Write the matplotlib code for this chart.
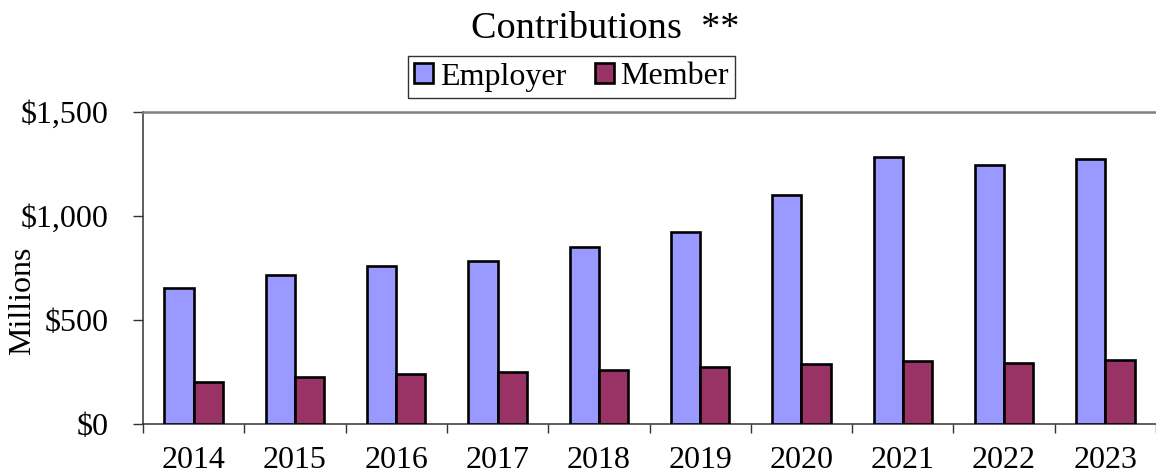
import numpy as np
import matplotlib.pyplot as plt
from matplotlib.ticker import FixedLocator, FuncFormatter

# ===============================
# Data (millions)
# ===============================
years = ["2014", "2015", "2016", "2017", "2018",
         "2019", "2020", "2021", "2022", "2023"]
employer = [652, 718, 760, 782, 849, 923, 1101, 1282, 1244, 1274]
member = [203, 224, 239, 251, 260, 272, 288, 301, 294, 308]

plt.rcParams["font.family"] = ["Liberation Serif", "DejaVu Serif"]

W, H = 1156, 475
fig = plt.figure(figsize=(W / 100, H / 100), dpi=100)

# axes box in pixels: left 143, right 1156, top 112, bottom 424
ax = fig.add_axes([143 / W, 1 - 424 / H, (1156 - 143) / W, (424 - 112) / H])

x = np.arange(len(years))
bw = 0.288

ax.bar(x - bw / 2, employer, bw, color="#9999FF", edgecolor="black",
       linewidth=1.9, label="Employer", zorder=3)
ax.bar(x + bw / 2, member, bw, color="#993366", edgecolor="black",
       linewidth=1.9, label="Member", zorder=3)

ax.set_xlim(-0.5, 9.44)
ax.set_ylim(0, 1500)

# Y axis
ax.yaxis.set_major_locator(FixedLocator([0, 500, 1000, 1500]))
ax.yaxis.set_major_formatter(FuncFormatter(lambda v, p: f"${v:,.0f}"))
ax.tick_params(axis="y", which="major", direction="out", length=7,
               width=1.0, color="#333333", labelsize=23, pad=18)

# X axis: labels at centers, ticks at category boundaries
ax.set_xticks(x)
ax.set_xticklabels(years)
ax.set_xticks(np.arange(-0.5, len(years), 1.0), minor=True)
ax.tick_params(axis="x", which="major", length=0, labelsize=23, pad=16)
ax.tick_params(axis="x", which="minor", direction="out", length=6.5,
               width=1.0, color="#333333")

# Spines
ax.spines["right"].set_visible(False)
ax.spines["top"].set_color("#808080")
ax.spines["top"].set_linewidth(1.8)
for s in ["left", "bottom"]:
    ax.spines[s].set_color("#333333")
    ax.spines[s].set_linewidth(1.1)

# Labels
fig.text(23 / W, 1 - 301 / H, "Millions", rotation=90, ha="center",
         va="center", fontsize=23)
fig.text(471 / W, 1 - 38 / H, "Contributions  **", ha="left",
         va="baseline", fontsize=27.5)

leg = fig.legend(loc="center", bbox_to_anchor=(571.5 / W, 1 - 77 / H),
                 ncol=2, fontsize=23, frameon=True, fancybox=False,
                 handlelength=0.6, handleheight=0.6, handletextpad=0.2,
                 columnspacing=0.9, borderpad=0.2, borderaxespad=0)
leg.get_frame().set_edgecolor("black")
leg.get_frame().set_linewidth(1.0)

fig.savefig("out.png", dpi=100)
